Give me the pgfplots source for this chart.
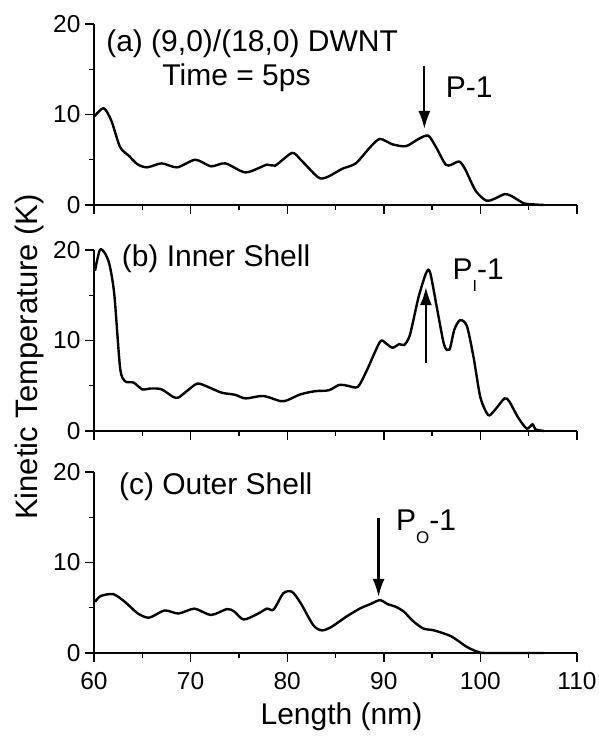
\documentclass[border=0pt]{standalone}
\usepackage{pgfplots}
\pgfplotsset{compat=1.18}
\usepackage{fontspec}
\setmainfont{Liberation Sans}
\usetikzlibrary{arrows.meta}
\pgfplotsset{
  panel/.style={
    scale only axis, width=483pt, height=181pt,
    xmin=60, xmax=110, ymin=0, ymax=20,
    axis x line=bottom, axis y line=left,
    axis line style={-, line width=1.4pt},
    every tick/.style={line width=1.4pt, black},
    tick align=outside,
    major tick length=9pt, minor tick length=5pt,
    xtick={60,70,80,90,100,110}, minor xtick={65,75,85,95,105},
    ytick={0,10,20}, minor ytick={5,15},
    /pgf/number format/assume math mode=true,
    tick label style={font=\fontsize{24.5}{27}\selectfont},
    yticklabel style={xshift=-1pt},
    xticklabel style={yshift=-7pt},
    clip=false,
  },
}
\tikzset{
  curve/.style={black, line width=2.4pt, smooth, tension=0.45},
  lbl/.style={anchor=west, inner sep=0pt, font=\fontsize{30}{34}\selectfont},
  arr/.style={line width=2.2pt, -{Latex[length=18pt,width=12pt]}},
}
\begin{document}
\begin{tikzpicture}
% (a)
\begin{axis}[panel, at={(94pt,531pt)}, anchor=south west, xticklabels={}]
\addplot[curve, no marks] coordinates {
(60.05,9.8) (61.0,10.7) (61.8,9.3) (62.7,6.4) (63.6,5.45) (64.5,4.5) (65.5,4.16) (67,4.6) (68.6,4.16) (70.5,5.0) (72.1,4.27) (73.6,4.6) (75.7,3.6) (77.9,4.46) (78.75,4.35) (80.5,5.75) (81.4,5.0) (83.2,3.06) (84.1,3.06) (85.7,4.0) (87.1,4.6) (88.6,6.4) (89.6,7.3) (90.9,6.7) (92.3,6.5) (93.6,7.3) (94.6,7.66) (95.4,6.4) (96.4,4.46) (97,4.46) (97.8,4.8) (98.4,4.0) (99.5,1.58) (100.6,0.48) (101.4,0.66) (102.5,1.2) (103.2,1.0) (104.5,0.18) (105.4,0.07) (106.6,0)
};
\node[lbl] at (axis cs:61.25,17.8) {(a) (9,0)/(18,0) DWNT};
\node[lbl] at (axis cs:67.07,14.1) {Time = 5ps};
\node[lbl] at (axis cs:96.4,13.0) {P-1};
\draw[arr] (axis cs:94.2,15.4) -- (axis cs:94.2,8.4);
\end{axis}
% (b)
\begin{axis}[panel, at={(94pt,305pt)}, anchor=south west, xticklabels={}]
\addplot[curve, no marks] coordinates {
(60.1,17.7) (60.6,20) (61.1,19.7) (61.6,18.4) (62.1,15.1) (62.7,7.0) (63.2,5.5) (64.1,5.35) (65,4.6) (65.9,4.7) (67,4.6) (68.2,3.76) (68.75,3.7) (69.6,4.4) (70.7,5.24) (71.8,4.87) (73.2,4.24) (74.6,4.0) (75.7,3.6) (77.5,3.87) (79.3,3.3) (80,3.4) (81.4,4.06) (82.9,4.4) (84.3,4.5) (85.4,5.1) (86.25,5.0) (87.3,4.87) (88.2,6.6) (89.6,9.85) (90.2,9.7) (90.9,9.2) (91.6,9.6) (92.1,9.5) (92.7,10.6) (93.6,14.8) (94.4,17.5) (94.8,17.5) (95.5,13.6) (96.25,9.5) (96.8,9.0) (97.3,11.2) (97.9,12.25) (98.6,11.6) (99.3,8.1) (100,3.7) (100.8,1.77) (101.4,2.2) (102.5,3.6) (103,3.25) (103.9,1.5) (104.8,0.26) (105.4,0.74) (105.7,0.18) (106.6,0)
};
\node[lbl] at (axis cs:62.86,19.0) {(b) Inner Shell};
\node[lbl] at (axis cs:97.1,17.2) {P\raisebox{-12pt}{\fontsize{16}{16}\selectfont I}-1};
\draw[arr] (axis cs:94.36,7.56) -- (axis cs:94.36,15.9);
\end{axis}
% (c)
\begin{axis}[panel, at={(94pt,83pt)}, anchor=south west,
  xlabel={Length (nm)},
  xlabel style={at={(axis description cs:0.5,0)}, anchor=center, yshift=-64pt, xshift=6pt, font=\fontsize{30}{34}\selectfont}]
\addplot[curve, no marks] coordinates {
(60.1,5.65) (60.7,6.3) (62,6.5) (63.2,5.65) (64.5,4.4) (65.7,3.9) (67.3,4.7) (68.75,4.36) (70.4,4.9) (72.1,4.2) (73.75,4.85) (74.5,4.6) (75.5,3.7) (77,4.36) (77.9,4.9) (78.6,4.8) (79.6,6.6) (80.5,6.76) (81.4,5.5) (82.7,3.07) (83.6,2.5) (84.6,2.9) (86.1,4.0) (87.5,4.9) (88.6,5.4) (89.6,5.84) (90.4,5.4) (91.25,5.1) (92.1,4.55) (93,3.55) (94.1,2.7) (95.2,2.5) (96.96,1.85) (98.6,0.67) (99.8,0.1) (100.7,0) (106.6,0)
};
\node[lbl] at (axis cs:62.57,18.4) {(c) Outer Shell};
\node[lbl] at (axis cs:91.25,14.0) {P\raisebox{-13pt}{\fontsize{17}{17}\selectfont O}-1};
\draw[arr] (axis cs:89.46,14.9) -- (axis cs:89.46,6.2);
\end{axis}
\node[rotate=90, inner sep=0pt, font=\fontsize{31}{34}\selectfont] at (29pt,379pt) {Kinetic Temperature (K)};
\pgfresetboundingbox
\path[use as bounding box] (0pt,0pt) rectangle (598pt,736pt);
\end{tikzpicture}
\end{document}
